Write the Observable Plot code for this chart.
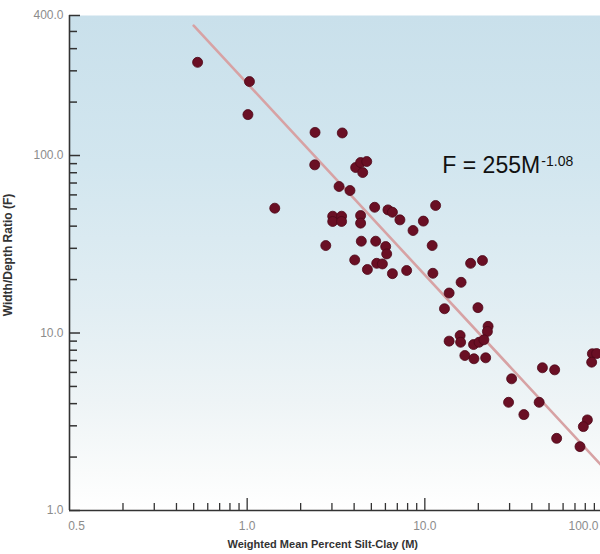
<!DOCTYPE html>
<html><head><meta charset="utf-8">
<script src="https://cdn.jsdelivr.net/npm/d3@7"></script>
<script src="https://cdn.jsdelivr.net/npm/@observablehq/plot@0.6"></script>
<style>
html,body{margin:0;padding:0;background:#fff;overflow:hidden;width:600px;height:554px}
#chart{position:relative;width:600px;height:554px;overflow:hidden}
#chart svg{max-width:none !important;display:block}
</style></head><body><div id="chart"></div>
<script>
// Weighted mean percent silt-clay (M)
const siltClay = [0.526,1.03,1.01,2.41,3.43,2.40,4.08,4.35,4.71,4.47,3.29,3.79,1.43,3.03,3.40,3.03,3.40,4.35,4.35,5.22,6.20,6.57,7.24,9.81,8.58,11.5,2.77,4.39,5.29,6.02,6.10,4.03,5.36,5.77,4.75,6.57,7.90,11.0,11.1,13.7,12.9,13.7,16.0,18.1,21.1,19.9,22.7,22.5,15.8,15.9,18.8,20.2,21.5,16.8,18.9,22.0,30.8,45.9,53.8,87.7,92.7,86.9,29.6,44.0,36.1,55.2,74.7,82.2,78.0];
// Width/depth ratio (F)
const widthDepth = [335,261,170,135,134,88.6,85.6,91.3,92.5,80.2,66.9,63.5,50.5,45.5,45.5,42.5,42.5,45.9,41.6,51.1,49.4,47.9,43.4,42.7,37.8,52.3,31.1,32.9,32.9,30.7,27.9,25.8,24.7,24.5,22.8,21.6,22.5,31.1,21.7,16.8,13.7,9.0,19.3,24.7,25.6,13.9,10.9,10.2,9.68,8.87,8.61,8.87,9.16,7.47,7.16,7.25,5.52,6.37,6.20,7.64,7.66,6.85,4.07,4.07,3.47,2.55,2.29,3.24,2.97];
// Fitted line F = 255 M^-1.08, endpoints
const fitM = [0.5, 100];
const fitF = [539, 1.77];
// Equation annotation
const eqText = ["F = 255M"];
const eqExp = ["-1.08"];
const eqM = [12.55];
const eqF = [79.2];
// Axis ticks and labels
const xMajorTicks = [1, 10, 100];
const xMajorLabels = ["1.0", "10.0", "100.0"];
const xStartTick = [0.1];
const xStartLabel = ["0.5"];
const xMinorTicks = [0.2,0.3,0.4,0.5,0.6,0.7,0.8,0.9,2,3,4,5,6,7,8,9,20,30,40,50,60,70,80,90];
const yMajorTicks = [1, 10, 100, 615];
const yMajorLabels = ["1.0", "10.0", "100.0", "400.0"];
const yMinorTicks = [2,3,4,5,6,7,8,9,20,30,40,50,60,70,80,90,200,300,400,500];
const xTitle = ["Weighted Mean Percent Silt-Clay (M)"];
const yTitle = ["Width/Depth Ratio (F)"];

const points = siltClay.map((M, i) => ({M, F: widthDepth[i]}));
const fit = fitM.map((M, i) => ({M, F: fitF[i]}));
const eq = eqM.map((M, i) => ({M, F: eqF[i], t: eqText[i], e: eqExp[i]}));
const xTickRows = xMajorTicks.map((v, i) => ({v, label: xMajorLabels[i]}));
const yTickRows = yMajorTicks.map((v, i) => ({v, label: yMajorLabels[i]}));
const xStartRows = xStartTick.map((v, i) => ({v, label: xStartLabel[i]}));

const W = 615, H = 554, ML = 69, MR = 13, MT = 15, MB = 44;
const PW = W - ML - MR, PH = H - MT - MB;
const font = "Liberation Sans, Arial, Helvetica, sans-serif";
const tickColor = "#8c8c8c";
const xLabelStyle = {x: "v", text: "label", frameAnchor: "bottom", lineAnchor: "middle", textAnchor: "middle", dy: 16, fontSize: 12, fill: tickColor};

const chart = Plot.plot({
  width: W, height: H,
  marginLeft: ML, marginRight: MR, marginTop: MT, marginBottom: MB,
  style: {fontFamily: font, maxWidth: "none", background: "white", overflow: "visible"},
  x: {type: "log", domain: [0.1, 100], axis: null},
  y: {type: "log", domain: [1, 615], axis: null},
  marks: [
    Plot.frame({fill: "url(#bgGrad)", stroke: null}),
    Plot.line(fit, {x: "M", y: "F", stroke: "#d7a2a4", strokeWidth: 2.6}),
    Plot.dot(points, {x: "M", y: "F", r: 5, fill: "#6a0f24", stroke: "#4d0818", strokeWidth: 0.8}),
    // axis lines
    Plot.ruleX(xStartTick, {x: d => d, stroke: "#333", strokeWidth: 1.6}),
    Plot.ruleY([1], {y: d => d, stroke: "#333", strokeWidth: 1.6}),
    // inward ticks
    Plot.tickY(yMajorTicks, {y: d => d, insetRight: PW - 11, stroke: "#333", strokeWidth: 1.5}),
    Plot.tickY(yMinorTicks, {y: d => d, insetRight: PW - 8, stroke: "#333", strokeWidth: 1.5}),
    Plot.tickX(xMajorTicks, {x: d => d, insetTop: PH - 12, stroke: "#333", strokeWidth: 1.3}),
    Plot.tickX(xMinorTicks, {x: d => d, insetTop: PH - 7, stroke: "#333", strokeWidth: 1.3}),
    // tick labels
    Plot.text(yTickRows, {y: "v", text: "label", frameAnchor: "left", textAnchor: "end", dx: -6, fontSize: 12, fill: tickColor}),
    Plot.text(xTickRows, {...xLabelStyle, filter: d => d.v < 100}),
    Plot.text(xTickRows, {...xLabelStyle, filter: d => d.v >= 100, dx: -19}),
    Plot.text(xStartRows, {...xLabelStyle, dx: 7}),
    // titles
    Plot.text(xTitle, {text: d => d, frameAnchor: "bottom-left", dx: 158, dy: 37, textAnchor: "start", fontSize: 11, fontWeight: "bold", fill: "#333"}),
    Plot.text(yTitle, {text: d => d, frameAnchor: "left", textAnchor: "middle", lineAnchor: "middle", rotate: -90, dx: -61, dy: -8, fontSize: 12, fontWeight: "bold", fill: "#333"}),
    // equation
    Plot.text(eq, {x: "M", y: "F", text: "t", textAnchor: "start", lineAnchor: "bottom", fontSize: 23, fill: "#111"}),
    Plot.text(eq, {x: "M", y: "F", text: "e", textAnchor: "start", lineAnchor: "bottom", dx: 99, dy: -7, fontSize: 14, fill: "#111"})
  ]
});

// gradient background definition
const svg = d3.select(chart.tagName.toLowerCase() === "svg" ? chart : chart.querySelector("svg"));
const grad = svg.insert("defs", ":first-child").append("linearGradient")
  .attr("id", "bgGrad").attr("x1", 0).attr("y1", 0).attr("x2", 0).attr("y2", 1);
[[0, "#c9e0eb"], [0.3, "#d2e6ef"], [0.6, "#e2eef3"], [0.78, "#eef4f6"], [0.92, "#f9fbfb"], [1, "#ffffff"]]
  .forEach(([o, c]) => grad.append("stop").attr("offset", o).attr("stop-color", c));

document.getElementById("chart").appendChild(chart);
</script>
</body></html>
